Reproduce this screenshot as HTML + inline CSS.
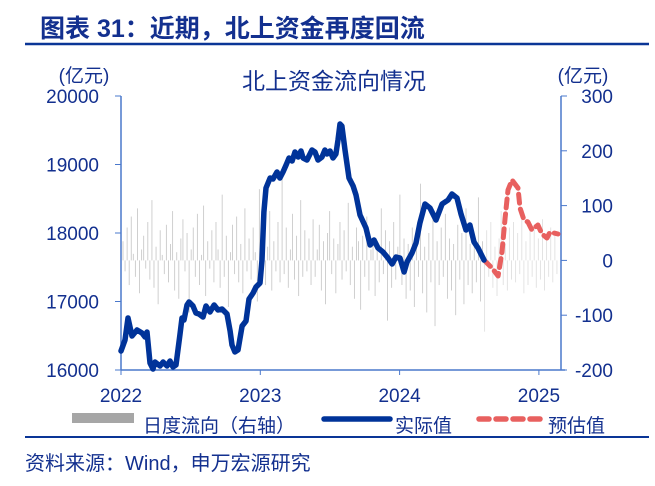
<!DOCTYPE html>
<html><head><meta charset="utf-8"><style>
html,body{margin:0;padding:0;background:#fff;}
svg{display:block;font-family:"Liberation Sans","Noto Sans CJK SC",sans-serif;}
</style></head><body>
<svg id="c" width="655" height="486" viewBox="0 0 655 486">
<text x="40" y="37" font-size="25" font-weight="bold" fill="#13308f">图表 31：近期，北上资金再度回流</text>
<line x1="25" y1="44" x2="649" y2="44" stroke="#0a3596" stroke-width="2.5"/>
<text x="334" y="89" font-size="23" fill="#13308f" text-anchor="middle">北上资金流向情况</text>
<text x="84" y="82" font-size="19" fill="#13308f" text-anchor="middle">(亿元)</text>
<text x="583" y="82" font-size="19" fill="#13308f" text-anchor="middle">(亿元)</text>
<g id="bars"></g>
<g id="axes"></g>
<g id="lines"></g>
<g>
<rect x="72" y="413" width="62" height="10" fill="#a6a6a6"/>
<text x="143" y="432" font-size="19" fill="#13308f">日度流向（右轴）</text>
<line x1="324" y1="419" x2="390" y2="419" stroke="#003399" stroke-width="5.5" stroke-linecap="round"/>
<text x="395" y="432" font-size="19" fill="#13308f">实际值</text>
<line x1="479" y1="419" x2="543" y2="419" stroke="#e8605f" stroke-width="5.5" stroke-dasharray="10,7" stroke-linecap="round"/>
<text x="548" y="432" font-size="19" fill="#13308f">预估值</text>
</g>
<line x1="25" y1="437" x2="649" y2="437" stroke="#0a3596" stroke-width="2"/>
<text x="25" y="470" font-size="20" fill="#13308f">资料来源：Wind，申万宏源研究</text>
</svg>
<script>
var leftTicks=[16000,17000,18000,19000,20000];
var rightTicks=[-200,-100,0,100,200,300];
var yearTicks=[2022,2023,2024,2025];
var actualT=[0,.029,.050,.079,.115,.151,.172,.187,.208,.230,.244,.280,.302,.330,.352,.373,.395,.423,.438,.452,.474,.488,.517,.538,.560,.589,.610,.639,.668,.696,.725,.761,.783,.797,.818,.840,.869,.897,.919,.948,.969,.998,1.012,1.026,1.041,1.070,1.091,1.120,1.141,1.163,1.185,1.206,1.228,1.249,1.271,1.292,1.307,1.335,1.371,1.393,1.414,1.443,1.464,1.479,1.500,1.522,1.543,1.558,1.572,1.586,1.608,1.637,1.666,1.687,1.716,1.759,1.788,1.816,1.845,1.881,1.917,1.946,1.974,2.003,2.032,2.053,2.089,2.118,2.146,2.182,2.218,2.261,2.305,2.348,2.376,2.412,2.441,2.477,2.505,2.534,2.563,2.606];
var actualV=[16277,16438,16759,16496,16584,16540,16482,16555,16102,16015,16117,16058,16117,16058,16131,16044,16073,16511,16759,16730,16949,16993,16934,16832,16818,16774,16934,16847,16949,16876,16891,16818,16569,16365,16263,16292,16642,16715,17036,17124,17212,17270,17606,18307,18657,18803,18788,18891,18803,18891,18993,19095,19051,19182,19109,19197,19095,19066,19212,19182,19066,19109,19212,19153,19197,19095,19153,19358,19591,19562,19212,18803,18686,18555,18263,18073,17825,17898,17781,17723,17635,17547,17650,17635,17431,17577,17708,17854,18146,18423,18365,18190,18423,18482,18569,18511,18277,18044,18117,17869,17781,17606];
var estT=[2.606,2.663,2.707,2.735,2.757,2.778,2.807,2.850,2.864,2.893,2.921,2.950,2.993,3.022,3.058,3.080,3.108,3.137];
var estV=[17606,17489,17372,17723,18219,18628,18774,18657,18365,18190,18161,18044,18117,17985,17927,18015,18000,17985];
var flows=[35,-20,60,-45,80,12,-30,95,-60,20,45,-15,70,-35,110,-50,25,-80,55,10,-25,65,-40,30,90,-55,15,-70,40,75,-20,50,-95,20,60,-30,85,-45,10,100,-65,35,-15,55,-40,70,20,-50,120,-30,45,-85,15,65,-25,80,-40,30,-60,95,-20,40,-35,60,15,-75,130,-30,50,-45,25,90,-55,35,-20,70,-40,150,-25,60,-50,20,85,-35,45,-65,110,-30,55,-20,40,-45,75,-30,20,65,-55,35,-80,50,90,-25,40,-60,30,70,-35,55,-20,105,-45,25,-70,60,35,-90,45,-30,80,-55,20,40,-65,30,-40,95,-25,55,-110,35,-50,70,-35,25,120,-45,40,-70,30,-55,60,-85,45,-30,140,-60,25,-95,50,-40,75,-120,35,-45,60,-30,85,-70,40,-55,30,-100,65,-35,50,-80,95,-45,30,-60,45,-40,115,-75,35,-130,55,-30,70,-50,25,-65,40,90,-45,30,-55,60,-35,70,-40,50,-25,80,-60,35,-45,55,-30,65,-50,40,-35,75,-55,45,-30,60,-40,50,-25];
var NS="http://www.w3.org/2000/svg";
var X0=121,X1=561,Y0=96,Y1=370;
function xs(t){return X0+t*139.3;}
function yl(v){return Y1-(v-16000)/4000*(Y1-Y0);}
function yr(v){return Y1-(v+200)/500*(Y1-Y0);}
function mk(tag,a,p){var e=document.createElementNS(NS,tag);for(var k in a)e.setAttribute(k,a[k]);p.appendChild(e);return e;}
var bars=document.getElementById('bars');
var step=(X1-4-X0)/flows.length;
for(var i=0;i<flows.length;i++){
 var x=X0+2+i*step,y0=yr(0),y1=yr(flows[i]);
 var b=mk('line',{x1:x,x2:x,y1:y0,y2:y1,stroke:(x>484?'#e0e0e0':'#cacaca'),'stroke-width':0.9},bars);
 
 
}
var ax=document.getElementById('axes');
var ac='#4a78cc';
var l1=mk('line',{x1:X0,y1:Y0,x2:X0,y2:Y1,stroke:ac,'stroke-width':1.5},ax);


var l2=mk('line',{x1:X1,y1:Y0,x2:X1,y2:Y1,stroke:ac,'stroke-width':1.5},ax);


var l3=mk('line',{x1:X0,y1:Y1,x2:X1+4,y2:Y1,stroke:ac,'stroke-width':1.5},ax);


leftTicks.forEach(function(v){var y=yl(v);mk('line',{x1:X0-6,x2:X0,y1:y,y2:y,stroke:ac},ax);
 var t=mk('text',{x:99,y:y+7,'font-size':19,'text-anchor':'end',fill:'#13308f'},ax);t.textContent=v;
 
 });
rightTicks.forEach(function(v){var y=yr(v);mk('line',{x1:X1,x2:X1+6,y1:y,y2:y,stroke:ac},ax);
 var t=mk('text',{x:613,y:y+7,'font-size':19,'text-anchor':'end',fill:'#13308f'},ax);t.textContent=v;
 
 });
yearTicks.forEach(function(v){var x=xs(v-2022);mk('line',{x1:x,x2:x,y1:Y1,y2:Y1+5,stroke:ac},ax);
 var t=mk('text',{x:x,y:402,'font-size':19,'text-anchor':'middle',fill:'#13308f'},ax);t.textContent=v;
 
 });
var ln=document.getElementById('lines');
function pts(T,V){return T.map(function(t,i){return xs(t).toFixed(1)+','+yl(V[i]).toFixed(1);}).join(' ');}
var pe=mk('polyline',{points:pts(estT,estV),fill:'none',stroke:'#e8605f','stroke-width':5,'stroke-dasharray':'9,6','stroke-linejoin':'round','stroke-linecap':'round'},ln);


var pa=mk('polyline',{points:pts(actualT,actualV),fill:'none',stroke:'#003399','stroke-width':5.5,'stroke-linejoin':'round','stroke-linecap':'round'},ln);


</script>
</body></html>
